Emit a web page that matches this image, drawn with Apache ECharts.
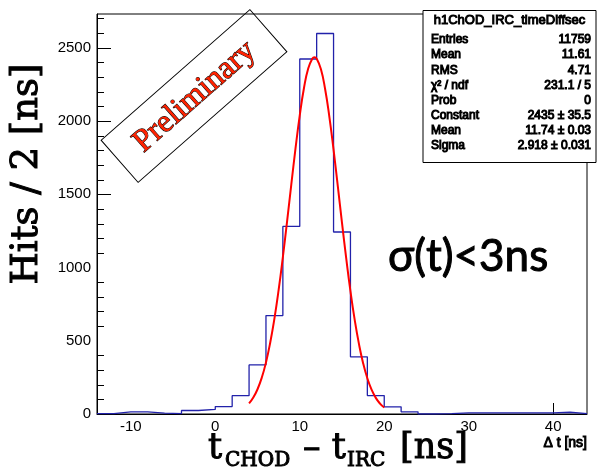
<!DOCTYPE html>
<html>
<head>
<meta charset="utf-8">
<script src="https://cdn.jsdelivr.net/npm/echarts@6/dist/echarts.min.js"></script>
<style>
  html, body { margin: 0; padding: 0; background: #fff; }
  #chart { width: 602px; height: 471px; }
</style>
</head>
<body>
<div id="chart"></div>
<script>
// ---- data ----
const histMin = -14;
const histMax = 44;
const binWidth = 2;
const hitsPerBin = [3, 15, 15, 6, 3, 24, 31, 51, 125, 335, 672, 1280, 2423, 2597, 1242, 390, 126, 49, 15, 0, 3, 8, 7, 8, 8, 7, 8, 12, 3];

// Gaussian fit curve, sampled points (t in ns, hits)
const fitT    = [4, 4.5, 5, 5.5, 6, 6.5, 7, 7.5, 8, 8.5, 9, 9.5, 10, 10.5, 11, 11.5, 11.74, 12, 12.5, 13, 13.5, 14, 14.5, 15, 15.5, 16, 16.5, 17, 17.5, 18, 18.5, 19, 19.5, 20];
const fitHits = [72, 112, 169, 247, 352, 486, 651, 847, 1071, 1315, 1567, 1814, 2038, 2225, 2358, 2427, 2435, 2425, 2354, 2218, 2030, 1804, 1557, 1304, 1062, 839, 644, 480, 347, 244, 166, 110, 71, 44];

// axis ticks
const yMax = 2730;
const yMajorTicks = [0, 500, 1000, 1500, 2000, 2500];
const yMinorTicks = [100, 200, 300, 400, 600, 700, 800, 900, 1100, 1200, 1300, 1400, 1600, 1700, 1800, 1900, 2100, 2200, 2300, 2400, 2600, 2700];
const xMajorTicks = [-10, 0, 10, 20, 30, 40];
const xMinorTicks = [-12, -8, -6, -4, -2, 2, 4, 6, 8, 12, 14, 16, 18, 22, 24, 26, 28, 32, 34, 36, 38, 42];

const statTitle = 'h1ChOD_IRC_timeDiffsec';
const statLabels = ['Entries', 'Mean', 'RMS', 'χ² / ndf', 'Prob', 'Constant', 'Mean', 'Sigma'];
const statValues = ['11759', '11.61', '4.71', '231.1 / 5', '0', '2435 ± 35.5', '11.74 ± 0.03', '2.918 ± 0.031'];

// ---- build series data ----
const histData = hitsPerBin.map((v, i) => [histMin + i * binWidth, v]);
histData.push([histMax, hitsPerBin[hitsPerBin.length - 1]]);
const fitData = fitT.map((t, i) => [t, fitHits[i]]);

const chart = echarts.init(document.getElementById('chart'), null, { renderer: 'canvas' });

const sans = 'Liberation Sans';
const serif = 'DejaVu Serif';

// stats box graphics
const boxX = 423, boxY = 10.5, boxW = 173, boxH = 152;
const statChildren = [
  { type: 'rect', shape: { x: boxX, y: boxY, width: boxW, height: boxH }, style: { fill: '#fff', stroke: '#000', lineWidth: 1 } },
  { type: 'line', shape: { x1: boxX, y1: 29, x2: boxX + boxW, y2: 29 }, style: { stroke: '#000', lineWidth: 1 } },
  { type: 'text', style: { text: statTitle, x: boxX + boxW / 2, y: 20, align: 'center', verticalAlign: 'middle', fontFamily: sans, fontSize: 13, fill: '#000' } }
];
statLabels.forEach((lab, i) => {
  const y = 40 + i * 15.1;
  statChildren.push({ type: 'text', style: { text: lab, x: 431, y: y, align: 'left', verticalAlign: 'middle', fontFamily: sans, fontSize: 12, fill: '#000' } });
  statChildren.push({ type: 'text', style: { text: statValues[i], x: 591, y: y, align: 'right', verticalAlign: 'middle', fontFamily: sans, fontSize: 12, fill: '#000' } });
});

const prelimColor = '#ff2200';
const numFmt = v => String(v);

const option = {
  animation: false,
  grid: { left: 97, top: 14, width: 490, height: 400, show: true, borderColor: '#000', borderWidth: 1 },
  xAxis: {
    type: 'value', min: histMin, max: histMax,
    axisLine: { show: true, onZero: false, lineStyle: { color: '#000', width: 1 } },
    axisTick: { show: false },
    axisLabel: { show: true, showMinLabel: false, showMaxLabel: false, margin: 5, color: '#000', fontFamily: sans, fontSize: 15, formatter: numFmt },
    splitLine: { show: false }
  },
  yAxis: {
    type: 'value', min: 0, max: yMax, interval: 500,
    axisLine: { show: true, onZero: false, lineStyle: { color: '#000', width: 1 } },
    axisTick: { show: false },
    axisLabel: { show: true, showMaxLabel: false, margin: 6, color: '#000', fontFamily: sans, fontSize: 15, formatter: numFmt },
    splitLine: { show: false }
  },
  series: [
    {
      type: 'line', name: 'hist',
      data: histData, step: 'end', symbol: 'none',
      lineStyle: { color: '#2222aa', width: 1.3 },
      z: 2
    },
    {
      type: 'line', name: 'fit',
      data: fitData, smooth: true, symbol: 'none',
      lineStyle: { color: '#ff0000', width: 2 },
      z: 3
    }
  ],
  graphic: [
    {
      id: 'prelim', type: 'group', x: 194, y: 96, rotation: 41.3 * Math.PI / 180, z: 50,
      children: [
        { type: 'rect', shape: { x: -99, y: -28, width: 198, height: 56 }, style: { fill: 'none', stroke: prelimColor, lineWidth: 2 } },
        { type: 'text', style: { text: 'Preliminary', x: 0, y: 1, align: 'center', verticalAlign: 'middle', fontFamily: 'Liberation Serif', fontSize: 32, fill: prelimColor } }
      ]
    },
    { id: 'stats', type: 'group', z: 100, children: statChildren },
    { id: 'sigma', type: 'text', z: 50, style: { text: 'σ(t)<3ns', x: 388, y: 257, align: 'left', verticalAlign: 'middle', fontFamily: 'Lato', fontSize: 44, fill: '#000' } },
    { id: 'dt', type: 'text', z: 50, style: { text: 'Δ t [ns]', x: 587, y: 443, align: 'right', verticalAlign: 'middle', fontFamily: sans, fontSize: 14, fill: '#000' } },
    { id: 'ytitle', type: 'text', z: 50, rotation: Math.PI / 2, x: 27, y: 174, style: { text: 'Hits / 2 [ns]', x: 0, y: 0, align: 'center', verticalAlign: 'middle', fontFamily: serif, fontSize: 37, fill: '#000' } },
    { id: 'xt1', type: 'text', z: 50, style: { text: 't', x: 208, y: 449, align: 'left', verticalAlign: 'middle', fontFamily: serif, fontSize: 35, fill: '#000' } },
    { id: 'xt2', type: 'text', z: 50, style: { text: 'CHOD', x: 225, y: 461, align: 'left', verticalAlign: 'middle', fontFamily: serif, fontSize: 20, fill: '#000' } },
    { id: 'xt3', type: 'text', z: 50, style: { text: '– t', x: 303, y: 449, align: 'left', verticalAlign: 'middle', fontFamily: serif, fontSize: 35, fill: '#000' } },
    { id: 'xt4', type: 'text', z: 50, style: { text: 'IRC', x: 347, y: 461, align: 'left', verticalAlign: 'middle', fontFamily: serif, fontSize: 20, fill: '#000' } },
    { id: 'xt5', type: 'text', z: 50, style: { text: '[ns]', x: 400, y: 449, align: 'left', verticalAlign: 'middle', fontFamily: serif, fontSize: 35, fill: '#000' } }
  ]
};

chart.setOption(option);

// ---- tick marks placed through the chart's own axis scales ----
const tickEls = [];
function addXTick(v, len) {
  const p = chart.convertToPixel({ gridIndex: 0 }, [v, 0]);
  const x = Math.round(p[0]) + 0.5;
  tickEls.push({ type: 'line', shape: { x1: x, y1: p[1], x2: x, y2: p[1] - len }, style: { stroke: '#000', lineWidth: 1 } });
}
function addYTick(v, len) {
  const p = chart.convertToPixel({ gridIndex: 0 }, [histMin, v]);
  const y = Math.round(p[1]) + 0.5;
  tickEls.push({ type: 'line', shape: { x1: p[0], y1: y, x2: p[0] + len, y2: y }, style: { stroke: '#000', lineWidth: 1 } });
}
xMajorTicks.forEach(v => addXTick(v, 11));
xMinorTicks.forEach(v => addXTick(v, 6));
yMajorTicks.forEach(v => addYTick(v, 14));
yMinorTicks.forEach(v => addYTick(v, 7));

chart.setOption({ graphic: [{ id: 'ticks', type: 'group', z: 40, children: tickEls }] });
</script>
</body>
</html>
